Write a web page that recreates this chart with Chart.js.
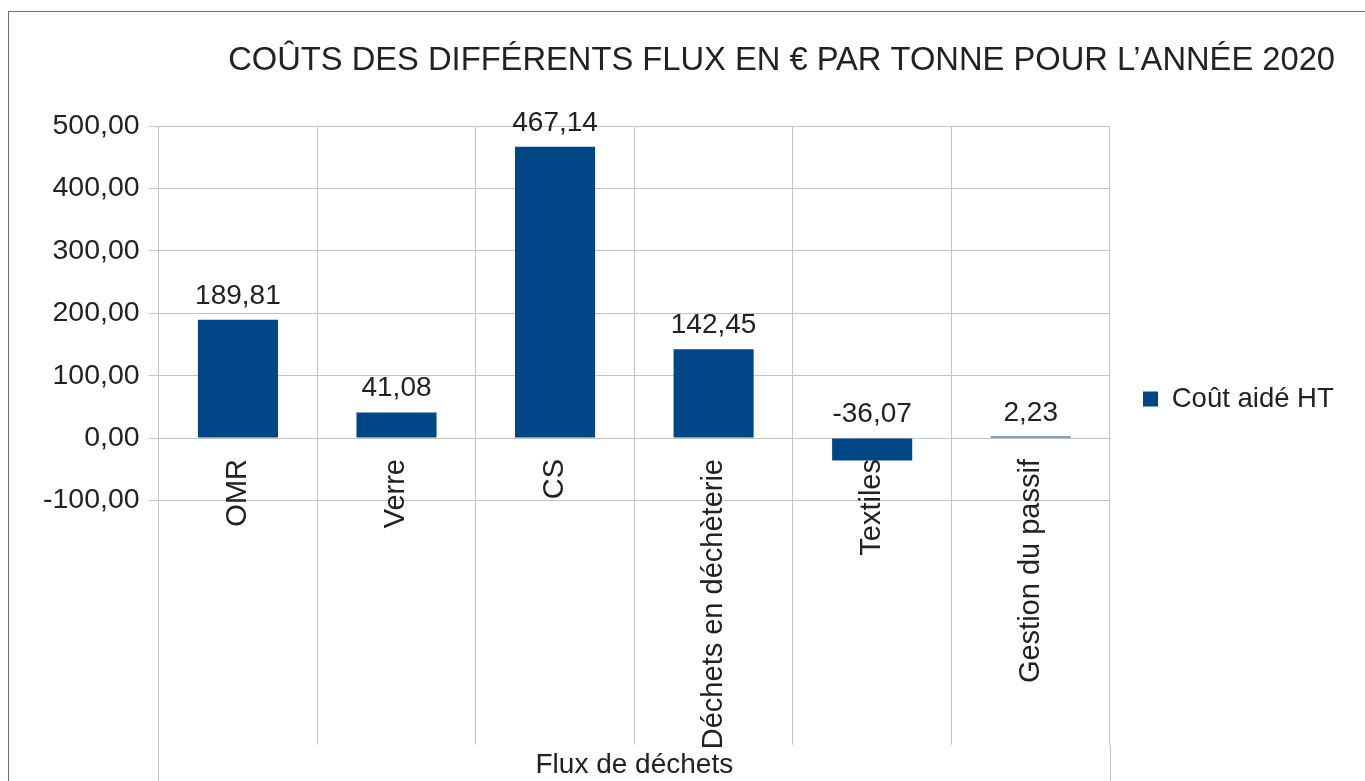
<!DOCTYPE html>
<html lang="fr">
<head>
<meta charset="utf-8">
<title>Coûts des différents flux</title>
<script src="https://cdn.jsdelivr.net/npm/chart.js@4.4.1/dist/chart.umd.min.js"></script>
<style>
  html, body { margin: 0; padding: 0; background: #fff; overflow: hidden; }
  #cadre {
    position: absolute; left: 8px; top: 11px;
    width: 1400px; height: 820px;
    border: 1px solid #6e6e6e;
    pointer-events: none;
  }
  #graph { position: absolute; left: 0; top: 0; }
</style>
</head>
<body>
<canvas id="graph" width="1365" height="781"></canvas>
<div id="cadre"></div>
<script>
// donnees
const flux = ['OMR', 'Verre', 'CS', 'Déchets en déchèterie', 'Textiles', 'Gestion du passif'];
const couts = [189.81, 41.08, 467.14, 142.45, -36.07, 2.23];
const serieNom = 'Coût aidé HT';
const titre = 'COÛTS DES DIFFÉRENTS FLUX EN € PAR TONNE POUR L’ANNÉE 2020';
const axeXTitre = 'Flux de déchets';
const yGraduations = [-100, 0, 100, 200, 300, 400, 500];
const yMin = -492;   // l'axe des categories se poursuit sous -100
const yMax = 500;

const BLEU = '#004586';
const GRILLE = '#c3c3c3';
const TEXTE = '#222222';
const POLICE = "'Liberation Sans', Arial, sans-serif";

Chart.defaults.font.family = POLICE;
Chart.defaults.color = TEXTE;

const virgule = (v) => v.toFixed(2).replace('.', ',');

// etiquettes de valeur au-dessus des barres
const etiquettes = {
    id: 'etiquettes',
    afterDatasetsDraw(chart) {
        const ctx = chart.ctx;
        const y = chart.scales.y;
        const meta = chart.getDatasetMeta(0);
        ctx.save();
        ctx.font = '28px ' + POLICE;
        ctx.fillStyle = TEXTE;
        ctx.textAlign = 'center';
        ctx.textBaseline = 'alphabetic';
        meta.data.forEach(function(barre, i){
            const v = couts[i];
            ctx.fillText(virgule(v), barre.x, y.getPixelForValue(Math.max(v, 0)) - 16);
        });
        ctx.restore();
    }
};

// murs gauche / droit prolonges jusqu'en bas
const murs = {
    id: 'murs',
    afterDraw(chart) {
        const {ctx, chartArea} = chart;
        ctx.save();
        ctx.strokeStyle = GRILLE;
        ctx.lineWidth = 1;
        ctx.beginPath();
        [chartArea.left, chartArea.right].forEach(function(x){
            const px = Math.round(x - 0.5) + 0.5;
            ctx.moveTo(px, chartArea.bottom);
            ctx.lineTo(px, chart.height);
        });
        ctx.stroke();
        ctx.restore();
    }
};

const graph = new Chart(document.getElementById('graph').getContext('2d'), {
    type: 'bar',
    data: {
        labels: flux,
        datasets: [
            {
                label: serieNom,
                data: couts,
                backgroundColor: BLEU,
                borderWidth: 0,
                categoryPercentage: 1,
                barPercentage: 0.505
            }
        ]
    },
    options: {
        responsive: false,
        animation: false,
        layout: {
            padding: { top: 17, left: 34, right: 30, bottom: 0 }
        },
        scales: {
            x: {
                type: 'category',
                position: { y: 0 },
                offset: true,
                afterFit: (s) => { s.height = 0; },
                grid: {
                    offset: true,
                    color: GRILLE,
                    drawTicks: false
                },
                border: { display: true, color: GRILLE },
                ticks: {
                    autoSkip: false,
                    minRotation: 90,
                    maxRotation: 90,
                    padding: 21,
                    color: TEXTE,
                    font: { size: 29 }
                }
            },
            y: {
                min: yMin,
                max: yMax,
                afterBuildTicks: (s) => {
                    s.ticks = yGraduations.map(v => ({ value: v }));
                },
                grid: {
                    color: GRILLE,
                    tickLength: 10
                },
                border: { display: true, color: GRILLE },
                ticks: {
                    padding: 9,
                    color: TEXTE,
                    font: { size: 28.5 },
                    callback: (v) => virgule(v)
                }
            }
        },
        plugins: {
            title: {
                display: true,
                text: titre,
                align: 'end',
                color: TEXTE,
                font: { size: 32.7, weight: 'normal', lineHeight: 1.2 },
                padding: { top: 24, bottom: 46 }
            },
            subtitle: {
                display: true,
                text: axeXTitre,
                position: 'bottom',
                fullSize: false,
                color: TEXTE,
                font: { size: 28, weight: 'normal', lineHeight: 1.15 },
                padding: { top: 4, bottom: 0 }
            },
            legend: {
                position: 'right',
                align: 'center',
                maxWidth: 225,
                labels: {
                    boxWidth: 15,
                    boxHeight: 15,
                    padding: 33,
                    color: TEXTE,
                    font: { size: 27.5 }
                }
            },
            tooltip: { enabled: false }
        }
    },
    plugins: [etiquettes, murs]
});
</script>
</body>
</html>
